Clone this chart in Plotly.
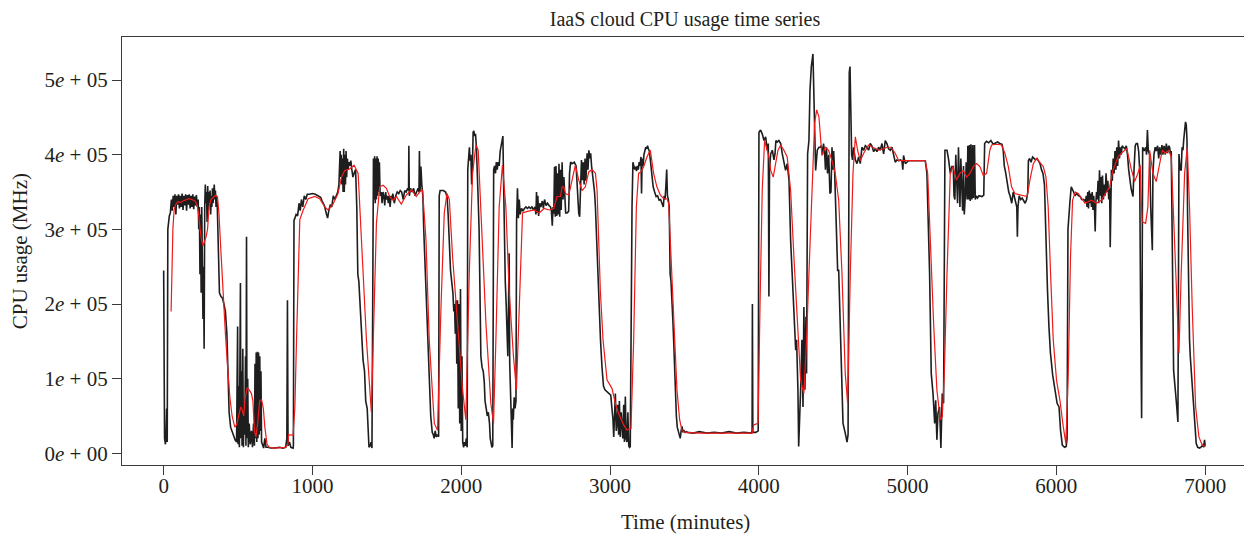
import plotly.graph_objects as go

# ---- data (time in minutes, CPU usage in thousands of MHz) ----
black_series = [
    (0,245),(3,150),(6,20),(12,12),(16,25),(20,60),(24,15),(28,300),(30,305),(38,318),(45,322),(52,340),(58,325),
    (64,345),(70,330),(76,347),(82,320),(88,345),(94,333),(100,347),(106,328),(112,345),(118,330),(124,348),
    (130,326),(136,345),(142,332),(148,347),(154,325),(160,346),(166,333),(172,347),(178,328),(184,345),(190,330),
    (196,347),(202,327),(208,344),(214,332),(220,346),(226,330),(232,340),(236,300),(240,330),(244,240),(248,320),
    (252,215),(256,330),(260,260),(264,180),(268,250),(272,140),(276,330),(280,360),(284,335),(288,350),(292,310),
    (296,358),(300,325),(304,350),(308,335),(312,352),(316,320),(320,345),(324,330),(328,355),(332,335),(336,348),
    (340,360),(344,340),(348,352),(352,330),(356,345),(360,335),(364,300),(368,235),(375,215),(385,210),(395,208),
    (405,200),(415,190),(425,160),(432,100),(440,55),(450,35),(465,25),(480,18),(490,15),(494,120),(497,170),
    (500,12),(505,90),(509,8),(513,160),(516,228),(519,20),(523,110),(527,10),(532,140),(536,8),(540,60),(545,25),
    (550,130),(553,10),(557,290),(560,20),(565,100),(569,8),(575,40),(582,12),(590,30),(597,8),(604,40),(610,10),
    (614,120),(618,20),(622,135),(626,15),(630,136),(634,20),(638,135),(642,25),(646,130),(650,30),(654,110),
    (658,15),(665,10),(672,7),(680,20),(688,8),(700,8),(720,7),(750,7),(780,8),(800,7),(820,8),(828,20),(832,205),
    (836,10),(845,15),(855,8),(870,7),
    (872,10),(876,312),(882,315),(890,320),(900,318),(910,335),(918,325),(926,340),(935,330),(945,345),(955,340),
    (965,347),(980,347),(1000,348),(1020,347),(1040,345),(1055,343),(1065,338),(1080,332),(1095,320),(1102,315),
    (1110,325),(1120,333),(1130,330),(1140,345),(1150,340),(1160,346),(1170,350),(1178,360),(1182,390),(1186,405),
    (1190,370),(1194,400),(1198,360),(1202,395),(1206,350),(1210,408),(1214,350),(1218,400),(1222,360),(1226,405),
    (1230,370),(1235,395),(1240,380),(1245,390),(1250,385),(1258,392),(1265,380),(1272,370),(1280,375),(1290,380),
    (1298,330),(1305,240),(1312,230),(1320,200),(1330,150),(1340,125),(1350,110),(1358,70),(1368,60),(1375,20),
    (1380,8),(1388,10),(1394,15),(1400,7),(1405,385),(1410,395),(1414,340),(1418,398),(1422,335),(1426,395),
    (1430,340),(1434,398),(1438,345),(1442,395),(1446,350),(1450,390),(1455,345),(1462,350),(1468,335),(1474,350),
    (1480,345),(1486,332),(1492,350),(1498,340),(1504,345),(1510,335),(1516,345),(1522,330),(1528,345),(1534,340),
    (1540,348),(1550,335),(1560,345),(1570,350),(1580,348),(1590,352),(1600,350),(1610,340),(1620,352),(1630,350),
    (1640,355),(1646,352),(1648,412),(1651,345),(1660,355),(1670,350),(1680,355),(1690,345),(1700,350),(1710,355),
    (1716,350),(1719,405),(1723,350),
    (1729,384),(1735,360),(1742,345),(1748,300),(1755,260),(1763,220),(1775,160),(1785,110),(1795,50),(1805,28),
    (1812,25),(1818,20),(1825,30),(1832,22),(1840,25),(1848,22),(1852,345),(1858,352),(1866,352),(1880,352),
    (1895,350),(1905,343),(1912,320),(1920,270),(1928,245),(1936,230),(1944,215),(1950,190),(1955,200),(1960,160),
    (1965,205),(1970,120),(1975,205),(1980,60),(1985,200),(1990,40),(1995,220),(2000,30),(2005,130),(2010,15),
    (2016,8),(2022,15),(2028,10),(2034,20),(2040,8),(2044,380),(2050,400),(2055,410),(2060,392),(2065,400),
    (2070,360),(2075,380),(2080,430),(2085,432),(2090,425),(2096,428),(2102,410),(2108,385),(2114,340),(2120,300),
    (2126,200),(2132,130),(2140,115),(2148,110),(2155,95),(2160,70),(2168,60),(2175,50),(2182,55),(2190,40),
    (2195,20),(2200,10),(2206,8),(2212,10),(2218,380),(2224,385),(2230,375),(2236,390),(2242,380),(2248,390),
    (2255,385),(2262,405),(2268,412),(2274,420),(2280,425),(2285,360),(2290,260),(2296,230),(2302,200),(2308,160),
    (2313,130),(2318,200),(2322,268),(2326,120),(2332,80),(2338,15),(2342,7),(2346,60),(2350,45),(2356,75),
    (2362,60),(2368,70),(2372,312),(2378,355),(2384,315),(2390,340),(2396,320),(2405,328),(2415,325),(2425,328),
    (2435,330),(2445,328),(2455,330),(2465,328),(2475,330),(2485,326),(2495,330),(2502,320),(2506,350),(2510,322),
    (2515,345),(2520,318),(2528,335),(2535,330),(2545,338),(2552,328),(2560,340),(2570,332),(2580,335),(2590,332),
    (2600,330),(2606,325),(2612,305),(2617,330),
    (2622,321),(2627,384),(2632,317),(2637,385),(2642,318),(2647,375),(2652,320),(2657,388),(2662,317),(2667,380),
    (2672,326),(2678,390),(2684,340),(2690,370),(2696,330),(2702,322),(2712,322),(2722,324),(2728,375),(2735,390),
    (2745,388),(2760,390),(2772,385),(2779,357),(2785,330),(2790,321),(2796,317),(2802,355),(2808,393),(2814,366),
    (2820,390),(2826,360),(2832,395),(2838,365),(2846,402),(2852,380),(2858,406),(2864,395),(2870,402),(2876,385),
    (2882,375),(2890,366),(2896,350),(2902,330),(2910,285),(2918,230),(2924,196),(2930,170),(2936,152),(2946,116),
    (2956,90),(2966,85),(2980,82),(2995,80),(3005,78),(3012,62),(3020,45),(3025,22),(3030,60),(3036,80),(3042,30),
    (3048,40),(3053,65),(3058,25),(3063,70),(3069,22),(3075,55),(3081,30),(3086,20),(3092,65),(3097,15),(3103,76),
    (3108,20),(3114,15),(3120,55),(3126,10),(3131,8),(3136,9),(3142,200),(3148,330),(3154,390),(3160,384),
    (3166,380),(3172,384),(3178,378),(3184,385),(3190,380),(3196,390),(3202,385),(3208,397),(3212,348),(3216,395),
    (3222,385),(3228,400),(3234,406),(3240,410),(3246,408),(3252,412),(3258,408),(3264,405),(3270,395),(3276,380),
    (3282,375),(3290,357),(3300,350),(3310,344),(3320,345),(3330,339),(3340,340),(3350,335),(3358,330),(3364,345),
    (3370,340),(3376,360),(3381,380),(3386,345),(3392,340),(3398,330),(3404,241),(3410,230),(3416,210),(3422,180),
    (3428,150),(3434,110),(3440,80),(3446,50),(3452,35),(3460,30),(3466,27),(3472,20),(3478,30),(3484,36),
    (3490,28),(3496,31),(3505,28),(3515,29),
    (3520,28),(3560,27),(3600,29),(3650,27),(3700,28),(3750,27),(3800,29),(3850,27),(3900,28),(3950,27),(3955,30),
    (3957,200),(3960,28),(3980,28),(3996,30),(4001,430),(4012,433),(4023,428),(4035,419),(4046,424),(4057,406),
    (4064,415),(4068,210),(4072,380),(4080,401),(4091,406),(4102,393),(4109,401),(4115,419),(4124,417),(4135,419),
    (4147,415),(4158,401),(4169,388),(4180,379),(4191,388),(4203,366),(4214,285),(4225,241),(4232,218),(4241,174),
    (4248,138),(4254,152),(4263,85),(4268,9),(4274,36),(4281,85),(4290,152),(4297,62),(4303,196),(4310,85),
    (4317,183),(4321,107),(4328,401),(4337,419),(4344,486),(4353,518),(4364,535),(4371,478),(4375,406),(4382,379),
    (4393,406),(4404,410),
    (4413,410),(4420,412),(4428,400),(4435,415),(4442,405),(4448,380),(4455,410),(4462,375),(4470,400),(4478,348),
    (4485,350),(4492,410),(4498,380),(4503,405),(4510,375),(4517,330),(4525,285),(4530,245),(4537,245),(4548,174),
    (4559,107),(4566,40),(4581,27),(4593,15),(4600,25),(4604,400),(4608,510),(4613,518),(4618,470),(4624,400),
    (4630,393),(4637,410),(4649,393),(4660,388),(4671,397),(4682,388),(4693,410),(4705,406),(4716,412),(4727,410),
    (4738,406),(4749,415),(4760,412),(4772,404),(4783,408),(4794,404),(4805,410),(4816,406),(4828,415),(4839,401),
    (4850,419),(4861,415),(4872,408),(4884,406),(4895,410),(4906,397),(4917,390),(4928,393),(4940,392),(4951,393),
    (4962,392),(4968,380),(4973,399),(4985,388),(5007,392),(5041,392),(5085,392),(5119,392),(5130,375),(5137,321),
    (5148,241),(5159,107),(5171,80),(5182,40),(5189,71),(5197,18),(5204,53),(5215,62),(5224,7),(5233,80),(5242,67),
    (5251,406),(5265,406),(5276,393),(5287,375),(5298,384),
    (5307,384),(5312,345),(5318,340),(5324,400),(5330,345),(5336,335),(5342,410),(5347,338),(5352,330),(5358,395),
    (5364,340),(5370,325),(5376,385),(5381,320),(5388,345),(5394,390),(5400,340),(5405,412),(5410,340),(5416,413),
    (5421,338),(5426,414),(5432,340),(5438,413),(5443,342),(5450,413),(5455,340),(5462,345),(5470,342),(5480,345),
    (5500,344),(5512,346),(5518,415),(5530,418),(5545,416),(5560,419),(5575,414),(5590,416),(5605,417),(5620,415),
    (5635,414),(5643,405),(5650,385),(5660,375),(5670,360),(5680,350),(5690,344),(5700,335),(5710,350),(5720,340),
    (5734,330),(5738,290),(5742,330),(5750,345),(5760,340),(5770,342),(5780,338),(5790,335),(5800,340),(5808,350),
    (5812,392),(5820,395),(5830,390),(5840,397),(5850,395),(5860,393),(5870,395),(5880,392),(5890,388),(5900,380),
    (5910,375),(5920,360),(5930,280),(5940,220),(5950,170),(5960,135),(5975,105),(5990,85),(6005,67),(6018,62),
    (6028,31),(6040,11),(6055,8),(6066,9),(6072,20),(6078,300),(6085,325),(6092,339),(6100,357),(6108,352),
    (6116,350),(6125,345),(6136,348),(6150,345),(6160,344),(6170,340),(6185,340),(6196,337),
    (6201,345),(6206,330),(6211,350),(6216,328),(6221,352),(6226,335),(6231,348),(6236,330),(6241,350),(6246,326),
    (6251,345),(6256,330),(6261,297),(6265,335),(6270,350),(6275,340),(6280,365),(6285,335),(6290,379),(6295,345),
    (6300,370),(6305,335),(6310,372),(6316,340),(6322,360),(6328,345),(6334,375),(6340,350),(6346,365),(6352,340),
    (6358,355),(6362,276),(6366,355),(6370,380),(6376,365),(6382,395),(6388,375),(6394,405),(6400,380),(6406,410),
    (6412,385),(6418,419),(6424,395),(6430,410),(6436,400),(6442,412),(6450,410),(6460,408),(6470,412),(6478,400),
    (6486,380),(6494,365),(6502,355),(6510,348),(6515,344),(6522,380),(6530,412),(6537,415),(6545,415),(6553,405),
    (6560,380),(6566,200),(6573,47),(6576,200),(6580,410),(6590,405),(6600,410),(6606,400),(6612,433),(6618,405),
    (6627,400),(6634,330),(6640,290),(6645,272),(6649,375),(6656,400),(6664,410),(6671,405),(6680,412),(6688,395),
    (6694,410),(6702,400),(6710,413),(6716,400),(6724,412),(6732,400),(6739,415),(6748,402),(6755,412),(6761,410),
    (6768,400),(6772,405),(6778,300),(6784,180),(6788,111),(6795,95),(6801,85),(6808,65),(6817,42),(6821,200),
    (6824,401),(6832,380),(6839,379),(6845,410),(6851,406),(6856,420),(6862,437),(6868,444),(6873,440),(6878,420),
    (6882,320),(6889,200),(6895,152),(6900,130),(6907,107),(6912,90),(6918,71),(6924,50),(6929,36),(6935,20),
    (6940,13),(6950,8),(6963,7),(6975,9),(6985,11),(6990,8),(6996,18),(7000,10),
]

red_series = [
    (50,190),(55,240),(62,300),(70,325),(80,333),(95,337),(110,336),(130,338),(150,340),(170,341),(190,340),
    (210,338),(225,333),(235,320),(245,300),(255,285),(265,278),(275,283),(285,290),(295,300),(305,330),(318,340),
    (335,344),(350,346),(362,343),(372,320),(385,270),(400,210),(415,160),(430,115),(445,75),(460,50),(478,35),
    (490,38),(505,50),(518,62),(528,58),(538,50),(548,75),(562,88),(575,85),(590,80),(600,70),(610,30),(620,22),
    (632,40),(645,70),(658,72),(670,60),(680,35),(695,12),(710,8),(740,7),(780,7),(820,8),(835,12),(840,25),
    (870,24),(882,62),(893,152),(905,250),(915,313),(938,326),(971,341),(1016,344),(1049,341),(1083,330),
    (1105,326),(1139,334),(1172,348),(1195,370),(1217,379),(1251,381),(1280,386),(1307,375),(1329,286),(1363,152),
    (1396,55),(1414,196),(1430,308),(1452,357),(1475,359),(1497,355),(1519,344),(1542,339),(1564,344),(1597,334),
    (1631,346),(1665,353),(1698,344),(1720,350),(1740,353),(1763,286),(1785,152),(1819,40),(1841,31),(1864,196),
    (1886,322),(1904,348),(1920,340),(1942,263),(1975,174),(2009,85),(2031,45),(2054,241),(2076,375),(2099,413),
    (2114,406),(2132,330),(2166,174),(2199,67),(2217,40),(2233,152),(2255,330),(2277,386),(2300,330),(2322,218),
    (2351,130),(2371,85),(2389,196),(2412,322),(2445,324),(2490,326),(2524,322),(2557,328),(2590,326),(2622,328),
    (2644,344),(2667,344),(2678,357),(2689,357),(2700,348),(2723,346),(2745,366),(2767,386),(2790,366),(2812,352),
    (2834,357),(2857,377),(2879,380),(2902,375),(2913,352),(2924,285),(2935,218),(2953,152),(2980,98),(3013,87),
    (3036,67),(3058,53),(3092,38),(3114,31),(3141,33),(3159,152),(3177,330),(3192,375),(3208,377),(3226,384),
    (3248,397),(3271,406),(3293,375),(3315,357),(3338,346),(3360,341),(3383,341),(3394,335),(3405,285),(3427,174),
    (3450,85),(3468,45),(3483,31),(3505,28),(3600,27),(3800,27),(3956,27),(3965,38),(3995,40),(4008,196),
    (4023,352),(4039,419),(4053,410),(4068,397),(4080,379),(4097,370),(4113,388),(4129,406),(4147,413),(4169,406),
    (4191,397),(4214,352),(4236,263),(4259,174),(4281,98),(4303,80),(4321,152),(4337,241),(4359,352),(4375,442),
    (4389,460),(4404,451),(4413,428),(4424,399),(4447,410),(4469,406),(4492,392),(4514,375),(4537,339),(4559,241),
    (4581,107),(4597,67),(4615,241),(4633,375),(4649,424),(4664,406),(4682,392),(4705,402),(4738,413),(4772,410),
    (4805,406),(4839,408),(4861,410),(4888,410),(4917,402),(4940,392),(4973,392),(5085,392),(5119,392),(5135,375),
    (5152,285),(5175,174),(5197,85),(5220,45),(5233,49),(5247,107),(5265,241),(5287,375),(5305,384),(5329,366),
    (5352,375),(5374,379),(5397,370),(5419,375),(5441,384),(5464,388),(5486,384),(5509,372),(5531,375),(5553,406),
    (5565,413),(5598,414),(5632,413),(5654,402),(5677,384),(5699,357),(5721,348),(5755,346),(5789,344),(5804,344),
    (5822,366),(5845,388),(5867,395),(5889,390),(5912,384),(5930,370),(5945,330),(5961,241),(5979,152),(6001,98),
    (6024,71),(6046,36),(6064,13),(6080,107),(6095,263),(6109,339),(6127,350),(6147,348),(6169,341),(6192,335),
    (6235,339),(6268,335),(6302,339),(6335,350),(6358,357),(6380,379),(6414,397),(6447,404),(6474,408),(6503,381),
    (6526,364),(6548,375),(6564,386),(6570,340),(6577,310),(6600,308),(6615,330),(6627,406),(6649,375),(6671,364),
    (6690,384),(6712,406),(6734,402),(6757,406),(6772,397),(6795,285),(6810,196),(6824,134),(6839,241),(6862,375),
    (6880,410),(6895,330),(6913,196),(6936,62),(6958,22),(6980,11),(7003,9),
]

x_tick_values = [0, 1000, 2000, 3000, 4000, 5000, 6000, 7000]
y_tick_values = [0, 100000, 200000, 300000, 400000, 500000]
y_tick_labels = ["0<i>e</i> + 00", "1<i>e</i> + 05", "2<i>e</i> + 05",
                 "3<i>e</i> + 05", "4<i>e</i> + 05", "5<i>e</i> + 05"]

title_text = "IaaS cloud CPU usage time series"
x_title = "Time (minutes)"
y_title = "CPU usage (MHz)"

UNIT = 1000  # values above are in thousands of MHz

bx = [p[0] for p in black_series]
by = [p[1] * UNIT for p in black_series]
rx = [p[0] for p in red_series]
ry = [p[1] * UNIT for p in red_series]

FONT = "Liberation Serif, Times New Roman, serif"
TXT = "#231f20"
AX = "#3a3a3a"
FS = 21

# the page body has an 8px margin, so the figure is offset by 8px
fig = go.Figure()
fig.add_trace(go.Scatter(x=bx, y=by, mode="lines",
                         line=dict(color="#1e1e1e", width=1.6), hoverinfo="skip",
                         showlegend=False))
fig.add_trace(go.Scatter(x=rx, y=ry, mode="lines",
                         line=dict(color="#f01a1a", width=1.2), hoverinfo="skip",
                         showlegend=False))

fig.update_layout(
    width=1244, height=529,
    margin=dict(l=114, r=4, t=29, b=72),
    paper_bgcolor="white", plot_bgcolor="white",
    font=dict(family=FONT, size=FS, color=TXT),
    showlegend=False,
    title=dict(text=title_text, xref="paper", x=0.5, xanchor="center",
               yref="container", y=1, yanchor="top", pad=dict(t=4, b=0, l=0, r=0),
               font=dict(family=FONT, size=FS - 1, color=TXT)),
    xaxis=dict(range=[-280, 7288], tickmode="array", tickvals=x_tick_values,
               ticks="outside", ticklen=9, tickwidth=1, tickcolor=AX,
               ticklabelstandoff=-7,
               showline=True, linecolor=AX, linewidth=1.2, mirror=True,
               showgrid=False, zeroline=False,
               tickfont=dict(family=FONT, size=FS, color=TXT)),
    yaxis=dict(range=[-15700, 557700], tickmode="array", tickvals=y_tick_values,
               ticktext=y_tick_labels,
               ticks="outside", ticklen=9, tickwidth=1, tickcolor=AX,
               showline=True, linecolor=AX, linewidth=1.2, mirror=True,
               showgrid=False, zeroline=False,
               tickfont=dict(family=FONT, size=FS, color=TXT)),
    annotations=[
        dict(text=x_title, xref="paper", yref="paper", x=0.5, y=(465 - 522) / 428.3,
             xanchor="center", yanchor="middle", showarrow=False,
             font=dict(family=FONT, size=FS, color=TXT)),
        dict(text=y_title, xref="paper", yref="paper", x=(20 - 121.7) / 1126, y=0.5,
             xanchor="center", yanchor="middle", textangle=-90, showarrow=False,
             font=dict(family=FONT, size=FS, color=TXT)),
    ],
)

fig.write_html("out.html")
